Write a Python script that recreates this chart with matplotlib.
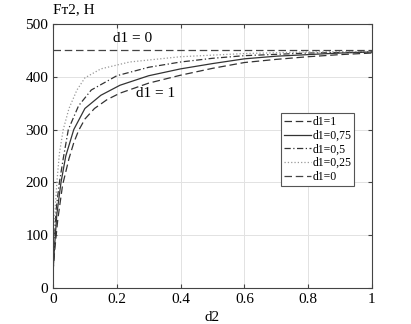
import matplotlib
matplotlib.use('Agg')
import matplotlib.pyplot as plt

plt.rcParams['font.family'] = ['Liberation Serif', 'DejaVu Serif']

# values
d2_1 = [0, 0.005, 0.015, 0.03, 0.05, 0.065, 0.08, 0.1, 0.13, 0.17, 0.21, 0.3, 0.4, 0.5, 0.6, 0.7, 0.8, 0.9, 1.0]
f_1 = [30, 70, 130, 195, 245, 275, 298, 320, 340, 357, 369, 388, 403, 416, 427, 433, 438, 442, 445]

d2_075 = [0, 0.005, 0.012, 0.025, 0.04, 0.065, 0.1, 0.15, 0.21, 0.3, 0.4, 0.5, 0.6, 0.7, 0.8, 0.9, 1.0]
f_075 = [30, 80, 140, 200, 250, 300, 340, 365, 384, 402, 415, 425, 434, 439, 442, 445, 447]

d2_05 = [0, 0.004, 0.01, 0.02, 0.032, 0.048, 0.08, 0.12, 0.2, 0.3, 0.4, 0.5, 0.6, 0.8, 1.0]
f_05 = [30, 90, 150, 200, 245, 300, 345, 375, 402, 418, 428, 435, 440, 445, 447]

d2_025 = [0, 0.003, 0.007, 0.012, 0.02, 0.032, 0.05, 0.075, 0.1, 0.15, 0.24, 0.4, 0.6, 0.8, 1.0]
f_025 = [30, 100, 150, 200, 255, 300, 340, 375, 398, 415, 428, 438, 444, 447, 448]

d2_0 = [0, 1]
f_0 = [450, 450]

fig = plt.figure(figsize=(4.11, 3.24), dpi=100)
ax = fig.add_axes([0.129, 0.111, 0.776, 0.815])

ax.plot(d2_1, f_1, color='#333333', lw=0.9, dashes=(6, 3), label='d1=1')
ax.plot(d2_075, f_075, color='#333333', lw=0.9, label='d1=0,75')
ax.plot(d2_05, f_05, color='#333333', lw=0.9, dashes=(5, 2, 1, 2), label='d1=0,5')
ax.plot(d2_025, f_025, color='#999999', lw=0.9, linestyle=':', label='d1=0,25')
ax.plot(d2_0, f_0, color='#444444', lw=0.9, dashes=(6, 3), label='d1=0')

ax.set_xlim(0, 1)
ax.set_ylim(0, 500)
ax.set_xticks([0, 0.2, 0.4, 0.6, 0.8, 1])
ax.set_xticklabels(['0', '0.2', '0.4', '0.6', '0.8', '1'])
ax.set_yticks([0, 100, 200, 300, 400, 500])
ax.tick_params(direction='in', top=True, right=True, labelsize=11, length=3, color='#444444')
ax.grid(True, color='#e2e2e2', lw=0.7)
for s in ax.spines.values():
    s.set_color('#444444')

ax.text(0.0, 1.03, 'Fт2, Н', transform=ax.transAxes, fontsize=11, va='bottom', ha='left')
ax.set_xlabel('d2', fontsize=11, labelpad=4)

ax.text(0.25, 472, 'd1 = 0', fontsize=11, ha='center', va='center')
ax.text(0.32, 369, 'd1 = 1', fontsize=11, ha='center', va='center')

leg = ax.legend(loc='upper right', bbox_to_anchor=(0.944, 0.663), fontsize=8.5,
                handlelength=2.3, handletextpad=0.1, borderpad=0.25, labelspacing=0.15,
                borderaxespad=0, fancybox=False, framealpha=1)
leg.get_frame().set_edgecolor('#555555')
leg.get_frame().set_linewidth(0.8)

fig.savefig('out.png', dpi=100)
